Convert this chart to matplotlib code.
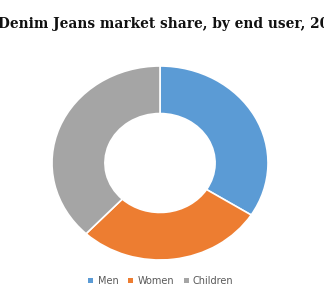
import matplotlib
matplotlib.use("Agg")
import matplotlib.pyplot as plt
from matplotlib.patches import Patch

categories = ["Men", "Women", "Children"]
shares = [34, 28, 38]
colors = ["#5B9BD5", "#ED7D31", "#A5A5A5"]
title = "Denim Jeans market share, by end user, 2016 (%)"

W, H = 324, 300
fig = plt.figure(figsize=(W/100, H/100), dpi=100)
fig.patch.set_facecolor("white")

ax = fig.add_axes([52/W, (H-260)/H, 216/W, 194/H])
ax.pie(shares, colors=colors, startangle=90, counterclock=False,
       wedgeprops=dict(width=0.49, edgecolor="white", linewidth=1.2))
ax.set_aspect("auto")
ax.set_xlim(-1, 1)
ax.set_ylim(-1, 1)
ax.axis("off")

fig.text(-2/W, 1 - 24/H, title, ha="left", va="center",
         fontsize=9.9, fontweight="bold", family="DejaVu Serif", color="#111111")

handles = [Patch(facecolor=c, edgecolor="none") for c in colors]
fig.legend(handles, categories, loc="center", bbox_to_anchor=(161/W, 1 - 281/H),
           ncol=3, frameon=False, fontsize=7, handlelength=0.5, handleheight=0.5,
           handletextpad=0.45, columnspacing=1.0, labelcolor="#595959")

fig.savefig("out.png", dpi=100)
